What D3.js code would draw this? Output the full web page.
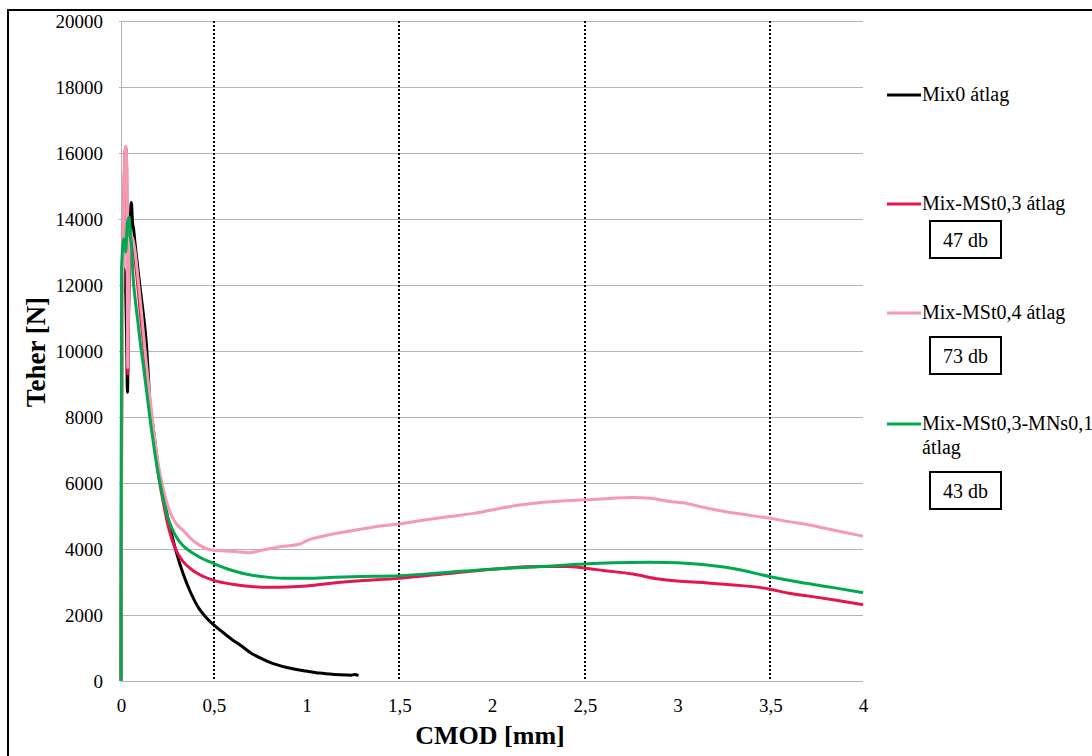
<!DOCTYPE html>
<html>
<head>
<meta charset="utf-8">
<script src="https://cdn.jsdelivr.net/npm/d3@7"></script>
<style>
  html, body { margin: 0; padding: 0; background: #fff; }
  svg { display: block; }
  text { font-family: "Liberation Serif", "Times New Roman", "DejaVu Serif", serif; fill: #000; }
</style>
</head>
<body>
<svg id="chart" width="1092" height="756"></svg>
<script>
// CMOD [mm] vs. load [N] averaged curves
const mix0X = [0, 0.003, 0.008, 0.014, 0.024, 0.03, 0.035, 0.039, 0.048, 0.056, 0.062, 0.068, 0.075, 0.083, 0.095, 0.11, 0.125, 0.137, 0.147, 0.155, 0.173, 0.2, 0.225, 0.25, 0.275, 0.3, 0.335, 0.37, 0.42, 0.46, 0.5, 0.55, 0.6, 0.65, 0.7, 0.75, 0.8, 0.9, 1.0, 1.07, 1.15, 1.215, 1.24, 1.26, 1.28];
const mix0Y = [0, 9000, 11500, 12500, 12000, 10500, 8750, 10500, 13500, 14500, 13900, 13700, 13300, 12900, 12300, 11600, 10900, 10200, 9300, 8500, 7700, 6500, 5700, 5000, 4400, 3870, 3250, 2750, 2200, 1920, 1700, 1470, 1250, 1060, 850, 700, 570, 400, 300, 240, 200, 180, 175, 200, 160];

const mst03X = [0, 0.004, 0.012, 0.02, 0.026, 0.031, 0.034, 0.036, 0.04, 0.047, 0.056, 0.066, 0.075, 0.09, 0.105, 0.12, 0.14, 0.16, 0.18, 0.2, 0.225, 0.25, 0.275, 0.3, 0.335, 0.38, 0.425, 0.5, 0.6, 0.7, 0.8, 0.9, 1.0, 1.1, 1.25, 1.5, 1.75, 2.0, 2.25, 2.4, 2.5, 2.6, 2.76, 2.9, 3.0, 3.15, 3.3, 3.45, 3.5, 3.6, 3.7, 3.84, 4.0];
const mst03Y = [0, 8000, 13500, 15800, 16200, 15500, 12000, 9300, 11000, 13300, 13400, 13200, 12800, 12000, 11100, 10300, 9200, 8100, 7200, 6300, 5500, 4800, 4280, 3930, 3620, 3380, 3220, 3050, 2930, 2865, 2840, 2850, 2880, 2940, 3020, 3110, 3250, 3390, 3470, 3470, 3420, 3350, 3240, 3090, 3030, 2980, 2910, 2830, 2780, 2660, 2580, 2460, 2310];

const mst04X = [0, 0.004, 0.012, 0.02, 0.026, 0.031, 0.034, 0.036, 0.04, 0.047, 0.056, 0.074, 0.09, 0.11, 0.13, 0.15, 0.17, 0.2, 0.225, 0.25, 0.275, 0.3, 0.335, 0.38, 0.425, 0.46, 0.5, 0.6, 0.694, 0.75, 0.85, 0.964, 1.0, 1.1, 1.25, 1.4, 1.5, 1.6, 1.75, 1.9, 2.04, 2.15, 2.25, 2.4, 2.5, 2.65, 2.76, 2.85, 2.95, 3.05, 3.15, 3.21, 3.35, 3.5, 3.6, 3.71, 3.85, 4.0];
const mst04Y = [0, 8000, 13500, 15800, 16200, 15500, 12000, 9500, 11000, 13400, 13500, 13100, 12300, 11200, 10000, 8900, 7900, 6600, 5900, 5350, 4980, 4750, 4560, 4300, 4110, 4010, 3960, 3930, 3890, 3950, 4060, 4150, 4250, 4400, 4560, 4700, 4760, 4850, 4970, 5080, 5230, 5330, 5400, 5460, 5490, 5540, 5560, 5535, 5450, 5380, 5250, 5180, 5050, 4930, 4830, 4730, 4560, 4390];

const mnsX = [0, 0.003, 0.015, 0.025, 0.035, 0.044, 0.05, 0.056, 0.065, 0.078, 0.092, 0.105, 0.119, 0.133, 0.146, 0.16, 0.18, 0.2, 0.225, 0.25, 0.275, 0.3, 0.335, 0.38, 0.425, 0.5, 0.6, 0.7, 0.8, 0.9, 1.0, 1.1, 1.25, 1.5, 1.75, 2.0, 2.25, 2.5, 2.65, 2.85, 3.0, 3.12, 3.3, 3.5, 3.66, 3.84, 4.0];
const mnsY = [0, 12500, 13400, 13000, 13900, 14050, 13500, 13260, 12250, 11500, 10840, 10200, 9630, 9000, 8420, 7800, 7000, 6300, 5600, 5000, 4620, 4350, 4100, 3900, 3750, 3560, 3350, 3210, 3140, 3110, 3110, 3130, 3160, 3190, 3290, 3390, 3460, 3545, 3580, 3600, 3580, 3535, 3410, 3160, 2990, 2830, 2680];

const seriesNames = ["Mix0 átlag", "Mix-MSt0,3 átlag", "Mix-MSt0,4 átlag", "Mix-MSt0,3-MNs0,1 átlag"];
const seriesColors = ["#000000", "#e3174d", "#f59ab3", "#00a84f"];
const sampleCounts = [null, "47 db", "73 db", "43 db"];

const xTicks = [0, 0.5, 1, 1.5, 2, 2.5, 3, 3.5, 4];
const xTickLabels = ["0", "0,5", "1", "1,5", "2", "2,5", "3", "3,5", "4"];
const yTicks = [0, 2000, 4000, 6000, 8000, 10000, 12000, 14000, 16000, 18000, 20000];
const dottedAt = [0.5, 1.5, 2.5, 3.5];

const series = [
  { name: seriesNames[0], color: seriesColors[0], xs: mix0X, ys: mix0Y },
  { name: seriesNames[1], color: seriesColors[1], xs: mst03X, ys: mst03Y },
  { name: seriesNames[2], color: seriesColors[2], xs: mst04X, ys: mst04Y },
  { name: seriesNames[3], color: seriesColors[3], xs: mnsX, ys: mnsY }
];

const FONT = '"Liberation Serif", "Times New Roman", "DejaVu Serif", serif';
const svg = d3.select("#chart");

// outer frame
svg.append("rect")
  .attr("x", 8).attr("y", 10).attr("width", 1100).attr("height", 760)
  .attr("fill", "none").attr("stroke", "#000").attr("stroke-width", 2);

const plot = { left: 121, right: 863, top: 21, bottom: 681 };
const x = d3.scaleLinear().domain([0, 4]).range([plot.left, plot.right]);
const y = d3.scaleLinear().domain([0, 20000]).range([plot.bottom, plot.top]);

// horizontal gridlines
svg.append("g").selectAll("line")
  .data(yTicks.filter(d => d > 0))
  .join("line")
  .attr("x1", plot.left - 2).attr("x2", plot.right)
  .attr("y1", d => Math.round(y(d)) + 0.5).attr("y2", d => Math.round(y(d)) + 0.5)
  .attr("stroke", "#b4b4b4").attr("stroke-width", 1);

// axis lines
svg.append("line")
  .attr("x1", plot.left + 0.5).attr("x2", plot.left + 0.5)
  .attr("y1", plot.top).attr("y2", plot.bottom)
  .attr("stroke", "#b4b4b4");
svg.append("line")
  .attr("x1", plot.left).attr("x2", plot.right)
  .attr("y1", plot.bottom + 0.5).attr("y2", plot.bottom + 0.5)
  .attr("stroke", "#b4b4b4");

// dotted verticals
svg.append("g").selectAll("line")
  .data(dottedAt)
  .join("line")
  .attr("x1", d => Math.round(x(d))).attr("x2", d => Math.round(x(d)))
  .attr("y1", plot.top).attr("y2", plot.bottom)
  .attr("stroke", "#000").attr("stroke-width", 2)
  .attr("stroke-dasharray", "2,2");

// y tick labels
const yAxis = d3.axisLeft(y).tickValues(yTicks).tickSize(0).tickPadding(18).tickFormat(d3.format("d"));
const gy = svg.append("g").attr("transform", `translate(${plot.left},0)`).call(yAxis);
gy.attr("font-family", FONT);
gy.select(".domain").remove();
gy.selectAll("text").attr("font-family", FONT).style("font-size", "19px").attr("dy", "0.32em");

// x tick labels
const xAxis = d3.axisBottom(x).tickValues(xTicks).tickSize(0).tickPadding(18)
  .tickFormat((d, i) => xTickLabels[i]);
const gx = svg.append("g").attr("transform", `translate(0,${plot.bottom})`).call(xAxis);
gx.attr("font-family", FONT);
gx.select(".domain").remove();
gx.selectAll("text").attr("font-family", FONT).style("font-size", "19px");

// axis titles
svg.append("text")
  .attr("x", 490).attr("y", 744)
  .attr("text-anchor", "middle")
  .attr("font-family", FONT)
  .style("font-size", "26px").style("font-weight", "bold")
  .text("CMOD [mm]");
svg.append("text")
  .attr("transform", "translate(45,352) rotate(-90)")
  .attr("text-anchor", "middle")
  .attr("font-family", FONT)
  .style("font-size", "27px").style("font-weight", "bold")
  .text("Teher [N]");

// curves
const line = d3.line().x(d => x(d[0])).y(d => y(d[1])).curve(d3.curveMonotoneX);
svg.append("clipPath").attr("id", "plotclip")
  .append("rect").attr("x", plot.left - 2).attr("y", plot.top - 10)
  .attr("width", plot.right - plot.left + 4).attr("height", plot.bottom - plot.top + 12);
svg.append("g").attr("clip-path", "url(#plotclip)")
  .selectAll("path")
  .data(series)
  .join("path")
  .attr("d", s => line(s.xs.map((v, i) => [v, s.ys[i]])))
  .attr("fill", "none")
  .attr("stroke", s => s.color)
  .attr("stroke-width", 3)
  .attr("stroke-linejoin", "round");

// legend
const legendRows = [
  { lines: [seriesNames[0]], y: 95, box: null },
  { lines: [seriesNames[1]], y: 204, box: 221 },
  { lines: [seriesNames[2]], y: 313, box: 337 },
  { lines: ["Mix-MSt0,3-MNs0,1", "átlag"], y: 424, box: 472 }
];
const lg = svg.append("g").attr("font-family", FONT);
legendRows.forEach((r, i) => {
  lg.append("line")
    .attr("x1", 887).attr("x2", 921).attr("y1", r.y).attr("y2", r.y)
    .attr("stroke", seriesColors[i]).attr("stroke-width", 3);
  r.lines.forEach((t, k) => {
    lg.append("text")
      .attr("x", 922).attr("y", r.y + k * 24).attr("dy", "0.32em")
      .attr("font-family", FONT)
      .style("font-size", "20px")
      .text(t);
  });
  if (r.box !== null) {
    lg.append("rect")
      .attr("x", 930).attr("y", r.box).attr("width", 71).attr("height", 37)
      .attr("fill", "#fff").attr("stroke", "#000").attr("stroke-width", 2);
    lg.append("text")
      .attr("x", 965.5).attr("y", r.box + 18.5).attr("dy", "0.35em")
      .attr("text-anchor", "middle")
      .attr("font-family", FONT)
      .style("font-size", "20px")
      .text(sampleCounts[i]);
  }
});
</script>
</body>
</html>
